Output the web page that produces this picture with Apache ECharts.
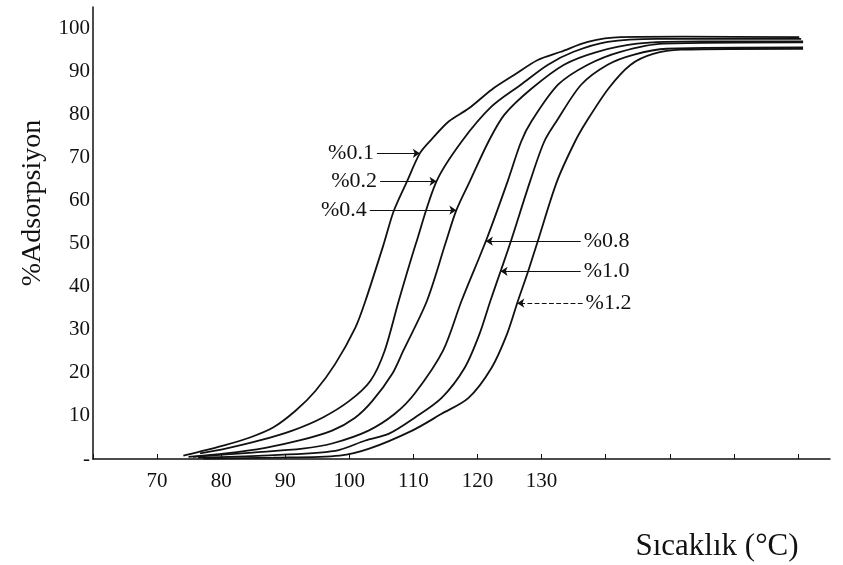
<!DOCTYPE html>
<html>
<head>
<meta charset="utf-8">
<script src="https://cdn.jsdelivr.net/npm/echarts@6/dist/echarts.min.js"></script>
<style>
  html, body { margin: 0; padding: 0; background: #fff; }
  #chart { width: 843px; height: 565px; }
</style>
</head>
<body>
<div id="chart"></div>
<script>
// adsorpsiyon egrileri, [sicaklik, %]
var c01 = [[74.1,0.8],[76.1,1.5],[80.3,3.1],[84.5,5.0],[88.1,7.3],[91.6,11.2],[94.7,15.8],[97.8,22.1],[100.9,30.4],[102.5,36.7],[105.4,50.1],[106.9,57.5],[109.0,64.5],[111.0,71.0],[112.8,74.2],[115.5,78.4],[118.6,81.4],[122.2,85.8],[125.7,89.2],[129.4,92.7],[133.0,94.6],[137.2,96.9],[142.3,98.0],[152,98.1],[170.2,98.0]];
var c02 = [[76.7,1.3],[80.7,2.4],[86.0,4.3],[91.1,6.6],[95.8,9.6],[100.0,13.5],[103.3,18.2],[105.5,25.1],[107.7,36.7],[110.4,50.1],[113.6,64.5],[117.5,73.7],[122.2,81.9],[126.8,87.0],[131.0,91.6],[135.0,94.6],[140.3,96.9],[148,97.6],[170.5,97.6]];
var c04 = [[74.9,0.5],[80.7,1.3],[86.9,2.6],[92.2,4.3],[97.3,6.6],[100.9,9.6],[103.6,13.5],[106.7,19.8],[108.4,25.1],[112.1,36.7],[115.0,50.1],[116.7,57.8],[118.8,64.5],[121.7,73.7],[124.2,80.0],[128.4,86.0],[133.5,91.6],[138.7,94.6],[144.9,96.5],[155,97.0],[170.8,97.0]];
var c08 = [[75.6,0.5],[84.9,1.5],[92.7,2.4],[97.3,3.6],[103.0,6.6],[107.1,10.5],[110.2,15.2],[114.6,25.1],[117.5,36.7],[121.4,51.0],[124.7,64.5],[126.8,73.7],[128.4,78.4],[132.6,87.0],[137.2,91.6],[142.3,94.6],[149.0,96.5],[170.8,96.8]];
var c10 = [[76.4,0.3],[86.5,0.8],[97.8,1.9],[102.5,4.3],[106.2,5.9],[110.2,9.6],[114.4,14.2],[118.0,21.2],[120.3,29.0],[122.0,36.7],[123.6,43.6],[125.1,50.1],[128.2,64.5],[130.4,73.7],[132.3,78.4],[136.2,87.0],[140.3,91.6],[144.3,93.9],[149.5,95.3],[170.8,95.6]];
var c12 = [[77.2,0.1],[88.1,0.3],[98.5,0.8],[103.1,2.4],[109.8,6.6],[114.4,10.5],[118.6,14.2],[122.2,21.2],[124.6,29.0],[126.3,36.7],[127.9,43.6],[129.4,50.6],[132.4,64.5],[135.2,73.7],[137.0,78.4],[140.5,86.2],[143.9,91.6],[147.4,94.1],[151.7,95.1],[170.8,95.3]];

var curves = [c01, c02, c04, c08, c10, c12];
var names = ['%0.1', '%0.2', '%0.4', '%0.8', '%1.0', '%1.2'];

// etiket oklari: kuyruk x, uc [x, y]
var arrowTail = [104.3, 104.8, 103.2, 136.1, 136.1, 136.4];
var arrowTip = [[111.0,71.0],[113.6,64.5],[116.7,57.8],[121.3,50.6],[123.6,43.6],[126.2,36.2]];

var xLabels = [70, 80, 90, 100, 110, 120, 130];

var ink = '#111';
var serif = 'Liberation Serif';

var chart = echarts.init(document.getElementById('chart'));

var series = curves.map(function (d, i) {
  var y = arrowTip[i][1];
  return {
    type: 'line',
    name: names[i],
    data: d,
    showSymbol: false,
    smooth: 0.3,
    lineStyle: { color: ink, width: 1.8 },
    markLine: {
      silent: true,
      symbol: ['none', 'arrow'],
      symbolSize: 7,
      lineStyle: { color: ink, width: 1.2, type: i === 5 ? 'dashed' : 'solid' },
      label: {
        show: true,
        position: 'start',
        distance: 3,
        formatter: names[i],
        color: ink,
        fontFamily: serif,
        fontSize: 22
      },
      data: [[{ coord: [arrowTail[i], y] }, { coord: arrowTip[i] }]]
    }
  };
});

chart.setOption({
  animation: false,
  backgroundColor: '#fff',
  grid: { left: 93, right: 13, top: 7, bottom: 106 },
  xAxis: {
    type: 'value',
    min: 60,
    max: 175,
    interval: 10,
    axisLine: { lineStyle: { color: ink, width: 1.5 } },
    axisTick: { show: true, inside: true, length: 5, lineStyle: { color: ink } },
    splitLine: { show: false },
    axisLabel: {
      color: ink,
      fontFamily: serif,
      fontSize: 21,
      margin: 12,
      showMaxLabel: false,
      formatter: function (v) { return xLabels.indexOf(v) >= 0 ? String(v) : ''; }
    }
  },
  yAxis: {
    type: 'value',
    min: 0,
    max: 105,
    interval: 10,
    axisLine: { show: true, lineStyle: { color: ink, width: 1.5 } },
    axisTick: { show: false },
    splitLine: { show: false },
    axisLabel: {
      color: ink,
      fontFamily: serif,
      fontSize: 21,
      margin: 3,
      showMaxLabel: false,
      formatter: function (v) { return v === 0 ? '-' : String(v); }
    }
  },
  graphic: [
    {
      type: 'text',
      x: 33, y: 203,
      rotation: Math.PI / 2,
      style: {
        text: '%Adsorpsiyon',
        fill: ink,
        font: '28px "Liberation Serif"',
        textAlign: 'center',
        textVerticalAlign: 'middle'
      }
    },
    {
      type: 'text',
      x: 717, y: 547,
      style: {
        text: 'Sıcaklık (°C)',
        fill: ink,
        font: '31px "Liberation Serif"',
        textAlign: 'center',
        textVerticalAlign: 'middle'
      }
    }
  ],
  series: series
});
</script>
</body>
</html>
